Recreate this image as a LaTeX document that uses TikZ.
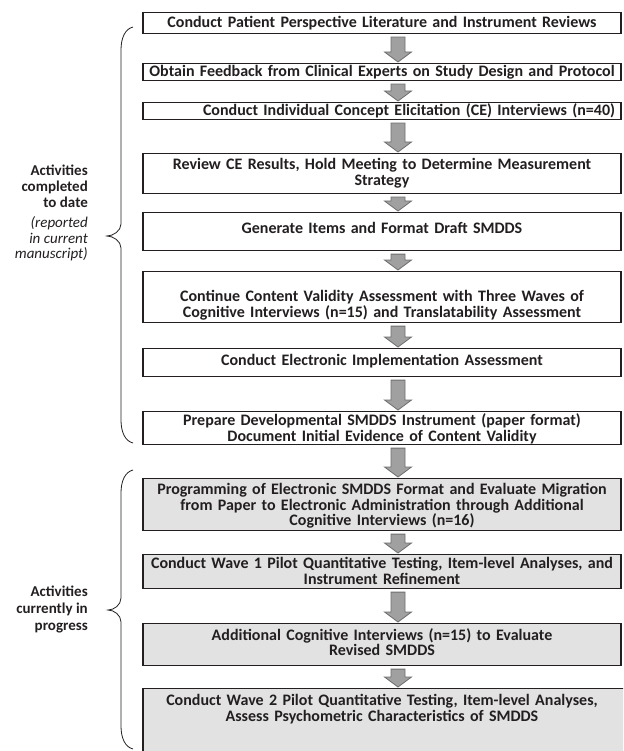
\documentclass[tikz,border=0pt]{standalone}
\usepackage{fontspec}
\setmainfont{Carlito}
\usetikzlibrary{calc}
\definecolor{boxgray}{HTML}{E2E2E2}
\definecolor{arrfill}{HTML}{A0A0A0}
\definecolor{arrline}{HTML}{6E6E6E}
\definecolor{ink}{HTML}{231F20}
\tikzset{
  stagebox/.style={draw=ink, line width=1.1pt, rectangle, minimum width=478pt, inner sep=0pt, anchor=north, fill=white},
  graybox/.style={stagebox, fill=boxgray},
  stagetext/.style={text=ink, font=\fontsize{16}{15.5}\selectfont\bfseries, align=center, text width=478pt, inner sep=0pt},
  sidetext/.style={text=ink, align=right, inner sep=0pt, anchor=east},
  bracestyle/.style={draw=ink, line width=0.8pt},
  arrowstyle/.style={fill=arrfill, draw=arrline, line width=0.8pt, line join=miter},
}
\newcommand{\flowarrow}[2]{%
  \path[arrowstyle] let \p1=([xshift=16pt,yshift=-3pt]#1.south), \p2=([xshift=16pt,yshift=1pt]#2.north) in
   (\x1-7pt,\y1) -- (\x1+7pt,\y1) -- (\x1+7pt,\y2+10pt) -- (\x1+13.5pt,\y2+10pt) -- (\x1,\y2) -- (\x1-13.5pt,\y2+10pt) -- (\x1-7pt,\y2+10pt) -- cycle;}
\begin{document}
\begin{tikzpicture}[x=1pt,y=-1pt]
\useasboundingbox (0,0) rectangle (623,751);
\begin{scope}
\clip (0,0) rectangle (623,751);
% boxes
\node[stagebox, minimum height=21pt] (b1) at (382,12) {};
\node[stagebox, minimum height=17pt] (b2) at (382,63) {};
\node[stagebox, minimum height=17pt] (b3) at (382,102) {};
\node[stagebox, minimum height=40pt] (b4) at (382,153) {};
\node[stagebox, minimum height=38pt] (b5) at (382,212) {};
\node[stagebox, minimum height=51pt] (b6) at (382,271) {};
\node[stagebox, minimum height=28pt] (b7) at (382,348) {};
\node[stagebox, minimum height=33pt] (b8) at (382,411) {};
\node[graybox, minimum height=52pt] (b9) at (382,478) {};
\node[graybox, minimum height=34pt] (b10) at (382,554) {};
\node[graybox, minimum height=42pt] (b11) at (382,623) {};
\node[graybox, minimum height=80pt, minimum width=482pt, xshift=2pt] (b12) at (382,688) {};
% texts
\node[stagetext] (t1) at (382,23) {Conduct Patient Perspective Literature and Instrument Reviews};
\node[stagetext] (t2) at (382,72) {Obtain Feedback from Clinical Experts on Study Design and Protocol};
\node[stagetext] (t3) at (409,111) {Conduct Individual Concept Elicitation (CE) Interviews (n=40)};
\node[stagetext] (t4) at (382,173) {Review CE Results, Hold Meeting to Determine Measurement\\Strategy};
\node[stagetext] (t5) at (382,228) {Generate Items and Format Draft SMDDS};
\node[stagetext] (t6) at (382,305) {Continue Content Validity Assessment with Three Waves of\\Cognitive Interviews (n=15) and Translatability Assessment};
\node[stagetext] (t7) at (382,361) {Conduct Electronic Implementation Assessment};
\node[stagetext] (t8) at (382,429) {Prepare Developmental SMDDS Instrument (paper format)\\Document Initial Evidence of Content Validity};
\node[stagetext] (t9) at (382,506) {Programming of Electronic SMDDS Format and Evaluate Migration\\from Paper to Electronic Administration through Additional\\Cognitive Interviews (n=16)};
\node[stagetext] (t10) at (382,571) {Conduct Wave 1 Pilot Quantitative Testing, Item-level Analyses, and\\Instrument Refinement};
\node[stagetext] (t11) at (382,642) {Additional Cognitive Interviews (n=15) to Evaluate\\Revised SMDDS};
\node[stagetext] (t12) at (382,709) {Conduct Wave 2 Pilot Quantitative Testing, Item-level Analyses,\\Assess Psychometric Characteristics of SMDDS};
% arrows
\flowarrow{b1}{b2}
\flowarrow{b2}{b3}
\flowarrow{b3}{b4}
\flowarrow{b4}{b5}
\flowarrow{b5}{b6}
\flowarrow{b6}{b7}
\flowarrow{b7}{b8}
\flowarrow{b8}{b9}
\flowarrow{b9}{b10}
\flowarrow{b10}{b11}
\flowarrow{b11}{b12}
% braces
\draw[bracestyle] (133,27) .. controls (125,29) and (121,38) .. (121,50) -- (121,224)
  .. controls (121,231) and (113,236) .. (107,236)
  .. controls (113,236) and (121,241) .. (121,248) -- (121,420)
  .. controls (121,432) and (125,441) .. (133,443);
\draw[bracestyle] (133,470) .. controls (125,472) and (121,481) .. (121,493) -- (121,598)
  .. controls (121,605) and (114,610) .. (108,610)
  .. controls (114,610) and (121,615) .. (121,622) -- (121,726)
  .. controls (121,738) and (125,747) .. (133,749);
\end{scope}
% side labels
\node[sidetext, font=\fontsize{15}{16}\selectfont\bfseries] (l1) at (88,186) {Activities\\completed\\to date};
\node[sidetext, font=\fontsize{15}{15.5}\selectfont\itshape] (l2) at (88,239) {(reported\\in current\\manuscript)};
\node[sidetext, font=\fontsize{15}{17}\selectfont\bfseries] (l3) at (88,609) {Activities\\currently in\\progress};
\end{tikzpicture}
\end{document}
